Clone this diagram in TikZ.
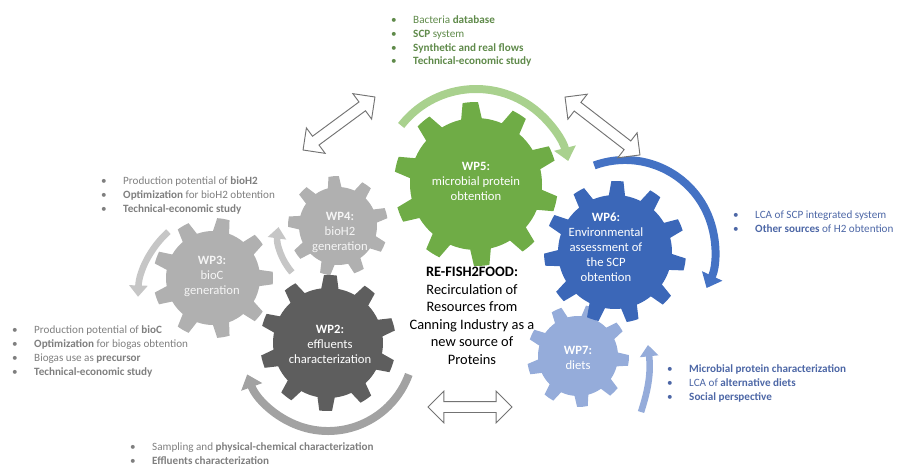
\documentclass[tikz,border=0pt]{standalone}
\usepackage{fontspec}
\setmainfont{Carlito}
\usepackage{tikz}
\usetikzlibrary{arrows.meta,shapes.arrows,calc}

\definecolor{wpgreen}{HTML}{6FAC46}
\definecolor{wpblue}{HTML}{3B67B8}
\definecolor{wplblue}{HTML}{95ACDA}
\definecolor{wplgray}{HTML}{B0B0B0}
\definecolor{wpdgray}{HTML}{5E5E5E}
\definecolor{arcgreen}{HTML}{A9D18E}
\definecolor{arcblue}{HTML}{4472C4}
\definecolor{arcgray}{HTML}{C6C6C6}
\definecolor{arcdgray}{HTML}{A2A2A2}
\definecolor{txtgreen}{HTML}{5F8A4A}
\definecolor{txtgray}{HTML}{7F7F7F}
\definecolor{txtblue}{HTML}{4D67A6}

% gear: centre, inner r, outer r, teeth, rotation, fill
\newcommand\gear[6]{%
  \pgfmathsetmacro\gp{360/#4}
  \fill[#6] ([shift={(#1)}] #5:#2)
    \foreach \k [evaluate=\k as \ga using #5+\gp*(\k-1),
                 evaluate=\k as \gb using #5+\gp*(\k-0.4),
                 evaluate=\k as \gc using #5+\gp*\k] in {1,...,#4} {
      arc[start angle=\ga, delta angle=0.5*\gp, radius=#2]
      -- ([shift={(#1)}] \gb:#3)
      arc[start angle=\gb, delta angle=0.3*\gp, radius=#3]
      -- ([shift={(#1)}] \gc:#2)
    } -- cycle;
}
\newcommand\itm[1]{\makebox[6.6mm][l]{\textbullet}#1}

\begin{document}
\begin{tikzpicture}[x=0.03cm,y=0.03cm,
    gtxt/.style={align=center,text=white,font=\fontsize{10.8}{12.8}\selectfont,inner sep=0pt},
    lst/.style={align=left,anchor=base west,inner sep=0pt,font=\fontsize{9.5}{11.9}\selectfont},
    turn/.style={line width=6.8pt,-{Triangle[length=4mm,width=6.5mm]}},
    turnS/.style={line width=5.6pt,-{Triangle[length=3.4mm,width=5.4mm]}},
    dbl/.style={double arrow,draw=black!55,fill=white,line width=0.8pt,inner xsep=0pt,inner ysep=1.5mm,double arrow head extend=3.1mm},
]
\useasboundingbox (0,0) rectangle (897,465);

% gear centres
\coordinate (g3) at (213,187);
\coordinate (g4) at (338,239);
\coordinate (g2) at (328,122);
\coordinate (g5) at (476,281);
\coordinate (g7) at (578,109);
\coordinate (g6) at (615,213);

% gears
\gear{g3}{47}{60}{9}{10}{wplgray}
\gear{g4}{39}{50}{9}{25}{wplgray}
\gear{g2}{55}{68}{10}{61}{wpdgray}
\gear{g5}{66}{82}{10}{67}{wpgreen}
\gear{g7}{40}{51}{9}{5}{wplblue}
\gear{g6}{57}{71}{11}{63.5}{wpblue}

\node[gtxt,text=white!92!gray] (wp3) at (212,189) {\textbf{WP3:}\\bioC\\generation};
\node[gtxt,text=white!92!gray] (wp4) at (340,233) {\textbf{WP4:}\\bioH2\\generation};
\node[gtxt] (wp2) at (330,121) {\textbf{WP2:}\\effluents\\characterization};
\node[gtxt] (wp5) at (476,284) {\textbf{WP5:}\\microbial protein\\obtention};
\node[gtxt] (wp6) at (606,218) {\textbf{WP6:}\\Environmental\\assessment of\\the SCP\\obtention};
\node[gtxt] (wp7) at (578,107) {\textbf{WP7:}\\diets};

% turning arrows
\draw[turn,arcgreen] (g5) ++(142:95) arc[start angle=142,end angle=14,radius=95];
\draw[turn,arcblue] ($(g6)+(10,2)$) ++(110:90) arc[start angle=110,end angle=-25,radius=90];
\draw[turnS,arcgray] ($(g3)+(17,-22)$) ++(132:92) arc[start angle=132,end angle=178,radius=92];
\draw[turnS,arcgray] ($(g4)+(-3,-9)$) ++(221:57) arc[start angle=221,end angle=172,radius=57];
\draw[turn,arcdgray] ($(g2)+(0,-2)$) ++(-20:86) arc[start angle=-20,end angle=-160,radius=86];
\draw[turnS,wplblue] ($(g7)+(63,-56)$) to[bend right=12] ($(g7)+(70,11)$);

% links
\node[dbl,minimum height=2.68cm,rotate=36.4] (dA) at (339,341.5) {};
\node[dbl,minimum height=2.84cm,rotate=-37.7] (dB) at (602.5,339) {};
\node[dbl,minimum height=2.52cm] (dC) at (470,58) {};

% centre title (anchored on its last line)
\node[align=center,anchor=base,inner sep=0pt,font=\fontsize{12.3}{14.9}\selectfont] (title) at (472,101)
  {\textbf{RE-FISH2FOOD:}\\Recirculation of\\Resources from\\Canning Industry as a\\new source of\\Proteins};

% task lists (anchored on their last line)
\node[lst,text=txtgreen] (l5) at (391,400) {\itm{Bacteria \textbf{database}}\\\itm{\textbf{SCP} system}\\\itm{\textbf{Synthetic and real flows}}\\\itm{\textbf{Technical-economic study}}};
\node[lst,text=txtgray] (l4) at (101,253) {\itm{Production potential of \textbf{bioH2}}\\\itm{\textbf{Optimization} for bioH2 obtention}\\\itm{\textbf{Technical-economic study}}};
\node[lst,text=txtgray] (l3) at (12,90) {\itm{Production potential of \textbf{bioC}}\\\itm{\textbf{Optimization} for biogas obtention}\\\itm{Biogas use as \textbf{precursor}}\\\itm{\textbf{Technical-economic study}}};
\node[lst,text=txtgray] (l2) at (130,1) {\itm{Sampling and \textbf{physical-chemical characterization}}\\\itm{\textbf{Effluents characterization}}};
\node[lst,text=txtblue] (l6) at (733,233) {\itm{LCA of SCP integrated system}\\\itm{\textbf{Other sources} of H2 obtention}};
\node[lst,text=txtblue] (l7) at (667,65) {\itm{\textbf{Microbial protein characterization}}\\\itm{LCA of \textbf{alternative diets}}\\\itm{\textbf{Social perspective}}};
\end{tikzpicture}
\end{document}
